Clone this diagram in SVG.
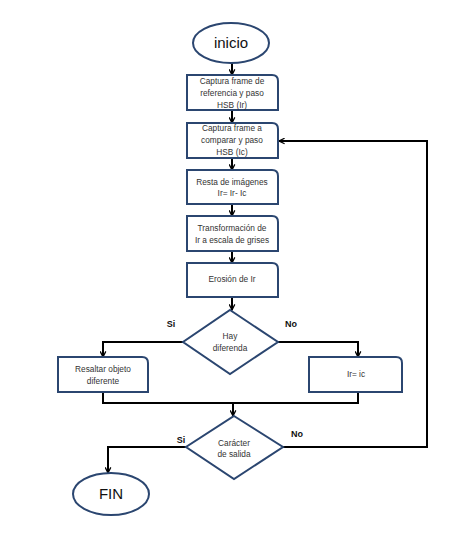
<svg xmlns="http://www.w3.org/2000/svg" width="474" height="555" viewBox="0 0 474 555">
<style>
.n{fill:#fff;stroke:#2b4670;stroke-width:2}
.t{font-family:"Liberation Sans",Arial,sans-serif;font-size:8.3px;fill:#333;text-anchor:middle}
.tb{font-family:"Liberation Sans",Arial,sans-serif;font-size:15px;fill:#111;text-anchor:middle}
.l{font-family:"Liberation Sans",Arial,sans-serif;font-size:9px;font-weight:bold;fill:#111;text-anchor:middle}
.c{fill:none;stroke:#000;stroke-width:2}
</style>
<defs>
<marker id="a" viewBox="0 0 10 10" refX="9" refY="5" markerWidth="7" markerHeight="7" orient="auto" markerUnits="userSpaceOnUse">
<path d="M1,1 L9,5 L1,9" fill="none" stroke="#000" stroke-width="1.8"/>
</marker>
</defs>
<rect width="474" height="555" fill="#fff"/>
<g id="connectors">
<path class="c" d="M232,63 V75" marker-end="url(#a)"/>
<path class="c" d="M232,110 V123" marker-end="url(#a)"/>
<path class="c" d="M232,158 V170" marker-end="url(#a)"/>
<path class="c" d="M232,204 V216" marker-end="url(#a)"/>
<path class="c" d="M232,251 V263" marker-end="url(#a)"/>
<path class="c" d="M232,297 V310" marker-end="url(#a)"/>
<path class="c" d="M183,342 H103 V357" marker-end="url(#a)"/>
<path class="c" d="M278,342 H358 V357" marker-end="url(#a)"/>
<path class="c" d="M103,392 V403 H358 V392"/>
<path class="c" d="M233,403 V416" marker-end="url(#a)"/>
<path class="c" d="M186,447 H108 V473" marker-end="url(#a)"/>
<path class="c" d="M283,447 H427 V141 H279" marker-end="url(#a)"/>
</g>
<g id="inicio">
<ellipse class="n" cx="231" cy="43" rx="38" ry="20"/>
<text class="tb" x="231" y="48">inicio</text>
</g>
<g id="captura-ref">
<path class="n" d="M187,75 H272 Q278,75 278,81 V110 H187 Z"/>
<text class="t" x="232" y="84">Captura frame de</text>
<text class="t" x="232" y="96">referencia y paso</text>
<text class="t" x="232" y="108">HSB (Ir)</text>
</g>
<g id="captura-comp">
<path class="n" d="M187,123 H272 Q278,123 278,129 V158 H187 Z"/>
<text class="t" x="232" y="131">Captura frame a</text>
<text class="t" x="232" y="143">comparar y paso</text>
<text class="t" x="232" y="155">HSB (Ic)</text>
</g>
<g id="resta">
<path class="n" d="M187,170 H272 Q278,170 278,176 V204 H187 Z"/>
<text class="t" x="232" y="185">Resta de imágenes</text>
<text class="t" x="232" y="196">Ir= Ir- Ic</text>
</g>
<g id="transformacion">
<path class="n" d="M187,216 H272 Q278,216 278,222 V251 H187 Z"/>
<text class="t" x="232" y="231">Transformación de</text>
<text class="t" x="232" y="243">Ir a escala de grises</text>
</g>
<g id="erosion">
<path class="n" d="M187,263 H272 Q278,263 278,269 V297 H187 Z"/>
<text class="t" x="232" y="282">Erosión  de Ir</text>
</g>
<g id="hay-diferencia">
<path class="n" d="M230,310 L278,342 L230,374 L183,342 Z"/>
<text class="t" x="230" y="339">Hay</text>
<text class="t" x="230" y="351">diferenda</text>
</g>
<g id="resaltar">
<path class="n" d="M58,357 H142 Q148,357 148,363 V392 H58 Z"/>
<text class="t" x="103" y="372">Resaltar objeto</text>
<text class="t" x="103" y="384">diferente</text>
</g>
<g id="ir-ic">
<path class="n" d="M309,357 H396 Q402,357 402,363 V392 H309 Z"/>
<text class="t" x="356" y="377">Ir= ic</text>
</g>
<g id="caracter-salida">
<path class="n" d="M234,416 L283,447 L234,479 L186,447 Z"/>
<text class="t" x="234" y="446">Carácter</text>
<text class="t" x="234" y="457">de salida</text>
</g>
<g id="fin">
<ellipse class="n" cx="111" cy="494" rx="38" ry="21"/>
<text class="tb" x="111" y="499">FIN</text>
</g>
<g id="labels">
<text class="l" x="171" y="327">Si</text>
<text class="l" x="291" y="327">No</text>
<text class="l" x="181" y="443">Si</text>
<text class="l" x="297" y="437">No</text>
</g>
</svg>
